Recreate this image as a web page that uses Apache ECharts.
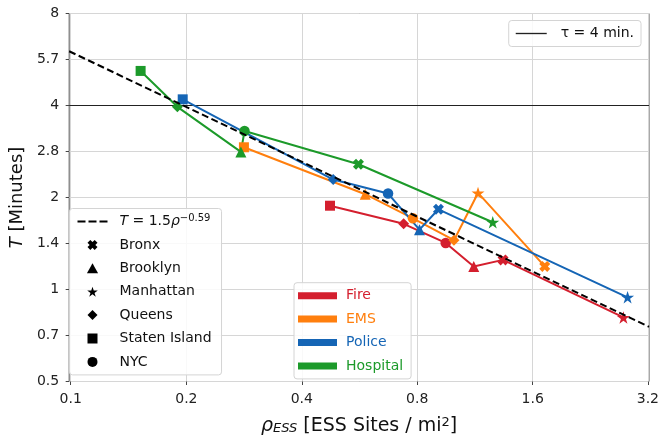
<!DOCTYPE html>
<html><head><meta charset="utf-8">
<script src="https://cdn.jsdelivr.net/npm/echarts@6/dist/echarts.min.js"></script>
<style>html,body{margin:0;padding:0;background:#fff}#c{width:662px;height:441px}</style>
</head><body><div id="c"></div>
<script>
// ---- data ----
const boroughs = ['Bronx', 'Brooklyn', 'Manhattan', 'Queens', 'Staten Island', 'NYC'];
const fireX     = [1.32, 1.105, 2.74, 0.722, 0.462, 0.932];
const fireY     = [1.25, 1.19, 0.81, 1.64, 1.88, 1.42];
const emsX      = [1.70, 0.572, 1.134, 0.98, 0.274, 0.764];
const emsY      = [1.19, 2.05, 2.07, 1.45, 2.92, 1.71];
const policeX   = [0.892, 0.795, 2.81, 0.471, 0.189, 0.657];
const policeY   = [1.83, 1.57, 0.943, 2.29, 4.19, 2.06];
const hospitalX = [0.549, 0.269, 1.24, 0.183, 0.1464, 0.275];
const hospitalY = [2.57, 2.82, 1.66, 3.96, 5.19, 3.30];
const fitX = [0.0949, 3.2];
const fitY = [6.02, 0.755];
const tauX = [0.0949, 3.2];
const tauY = [4, 4];
const xTickLabels = ['0.1', '0.2', '0.4', '0.8', '1.6', '3.2'];
const yTickLabels = ['0.5', '0.7', '1', '1.4', '2', '2.8', '4', '5.7', '8'];
const services = ['Fire', 'EMS', 'Police', 'Hospital'];
const FIT = 'fit';
const TAU = 'τ = 4 min.';

// ---- styling ----
const FONT = 'DejaVu Sans';
const colors = { Fire: '#d41f2e', EMS: '#ff7f0e', Police: '#1565b5', Hospital: '#1c9a2a' };
const XPATH = 'path://M2.8,0 L5,2.2 L7.2,0 L10,2.8 L7.8,5 L10,7.2 L7.2,10 L5,7.8 L2.8,10 L0,7.2 L2.2,5 L0,2.8 Z';
const STARPATH = 'path://M5,0.26 L6.123,3.715 L9.755,3.715 L6.817,5.85 L7.939,9.305 L5,7.17 L2.061,9.305 L3.183,5.85 L0.245,3.715 L3.877,3.715 Z';
const symbolMap = { 'Bronx': XPATH, 'Brooklyn': 'triangle', 'Manhattan': STARPATH, 'Queens': 'diamond', 'Staten Island': 'rect', 'NYC': 'circle' };
const sizeMap = { 'Bronx': 11, 'Brooklyn': 11, 'Manhattan': 13, 'Queens': 11, 'Staten Island': 10, 'NYC': 10.5 };
const legendIconMap = {
  'Bronx': XPATH,
  'Brooklyn': 'path://M5,0 L10,9 L0,9 Z',
  'Manhattan': STARPATH,
  'Queens': 'path://M5,0 L10,5 L5,10 L0,5 Z',
  'Staten Island': 'path://M0,0 H10 V10 H0 Z',
  'NYC': 'circle'
};

function nearestLabel(v, labels) {
  let best = labels[0], bd = Infinity;
  for (const l of labels) {
    const d = Math.abs(Math.log(v) - Math.log(+l));
    if (d < bd) { bd = d; best = l; }
  }
  return best;
}

function serviceSeries(name, xs, ys) {
  const pts = boroughs.map((b, i) => ({ b, x: xs[i], y: ys[i] })).sort((a, b) => a.x - b.x);
  return {
    type: 'line', name, xAxisIndex: 0, yAxisIndex: 0,
    data: pts.map(p => ({ value: [p.x, p.y], symbol: symbolMap[p.b], symbolSize: sizeMap[p.b] })),
    symbolKeepAspect: true,
    lineStyle: { width: 2, color: colors[name] },
    itemStyle: { color: colors[name], borderWidth: 0 },
    emphasis: { disabled: true },
    z: 3
  };
}

const series = [
  { type: 'line', name: TAU, xAxisIndex: 0, yAxisIndex: 0,
    data: tauX.map((x, i) => [x, tauY[i]]), symbol: 'none',
    lineStyle: { color: '#222', width: 1.2 }, itemStyle: { color: '#222' }, z: 2 },
  serviceSeries('Fire', fireX, fireY),
  serviceSeries('EMS', emsX, emsY),
  serviceSeries('Police', policeX, policeY),
  serviceSeries('Hospital', hospitalX, hospitalY),
  { type: 'line', name: FIT, xAxisIndex: 0, yAxisIndex: 0,
    data: fitX.map((x, i) => [x, fitY[i]]), symbol: 'none',
    lineStyle: { color: '#000', width: 2, type: [7, 3.5] }, itemStyle: { color: '#000' }, z: 4 }
];
boroughs.forEach(b => series.push({
  type: 'line', name: b, xAxisIndex: 0, yAxisIndex: 0, data: [],
  symbol: symbolMap[b], itemStyle: { color: '#000' }, lineStyle: { width: 0 }
}));

const legendBox = {
  orient: 'vertical', backgroundColor: 'rgba(255,255,255,0.85)',
  borderColor: '#d4d4d4', borderWidth: 1, borderRadius: 3,
  itemGap: 7.4, selectedMode: false,
  itemStyle: { borderWidth: 0 }
};

const option = {
  animation: false,
  backgroundColor: '#fff',
  grid: [
    { left: 62, right: 13, top: 13.5, bottom: 59.5, show: true, borderColor: '#555', borderWidth: 1, backgroundColor: 'transparent' },
    { left: 70.7, right: 13, top: 13.5, bottom: 59.5, show: false }
  ],
  xAxis: [
    { type: 'log', logBase: 2, gridIndex: 0, min: 0.0949, max: 3.2,
      axisLine: { show: false }, axisTick: { show: false }, axisLabel: { show: false }, splitLine: { show: false },
      name: '{i|ρ}{sub|ESS} [ESS Sites / mi{sup|2}]', nameLocation: 'middle', nameGap: 35,
      nameTextStyle: { fontFamily: FONT, fontSize: 19, color: '#111',
        rich: {
          i: { fontFamily: FONT, fontSize: 19, fontStyle: 'italic', color: '#111' },
          sub: { fontFamily: FONT, fontSize: 13, fontStyle: 'italic', color: '#111', verticalAlign: 'bottom' },
          sup: { fontFamily: FONT, fontSize: 13, color: '#111', verticalAlign: 'top' }
        } } },
    { type: 'log', logBase: 2, gridIndex: 1, min: 0.1, max: 3.2, interval: 1,
      axisLine: { show: false },
      axisTick: { show: true, length: 3.5, lineStyle: { color: '#444' } },
      axisLabel: { fontFamily: FONT, fontSize: 14, color: '#222', margin: 11,
        formatter: v => nearestLabel(v, xTickLabels) },
      splitLine: { show: true, lineStyle: { color: '#d6d6d6', width: 1 } } }
  ],
  yAxis: [
    { type: 'log', logBase: Math.SQRT2, gridIndex: 0, min: 0.5, max: 8, interval: 1,
      axisLine: { show: false },
      axisTick: { show: true, length: 3.5, lineStyle: { color: '#444' } },
      axisLabel: { fontFamily: FONT, fontSize: 14, color: '#222', margin: 10,
        formatter: v => nearestLabel(v, yTickLabels) },
      splitLine: { show: true, lineStyle: { color: '#d6d6d6', width: 1 } },
      name: '{i|T} [Minutes]', nameLocation: 'middle', nameGap: 37, nameRotate: 90,
      nameTextStyle: { fontFamily: FONT, fontSize: 18, color: '#111',
        rich: { i: { fontFamily: FONT, fontSize: 18, fontStyle: 'italic', color: '#111' } } } },
    { type: 'log', logBase: Math.SQRT2, gridIndex: 1, min: 0.5, max: 8, show: false }
  ],
  legend: [
    Object.assign({}, legendBox, {
      right: 21, top: 20.5, itemWidth: 31, itemHeight: 10, padding: [5, 7, 5, 7],
      data: [{ name: TAU, icon: 'path://M0,0h30v1.3h-30z', itemStyle: { color: '#222' } }],
      textStyle: { fontFamily: FONT, fontSize: 14, color: '#111', lineHeight: 16, padding: [0, 0, 0, 9] }
    }),
    Object.assign({}, legendBox, {
      left: 69.5, top: 208.5, itemWidth: 30, itemHeight: 10, padding: [5, 10, 5, 8],
      data: [{ name: FIT, icon: 'path://M0,0h8v2h-8z M11,0h8v2h-8z M22,0h8v2h-8z', itemStyle: { color: '#000' } }]
        .concat(boroughs.map(b => ({ name: b, icon: legendIconMap[b], itemStyle: { color: '#000' } }))),
      formatter: n => n === FIT ? '{i|T} = 1.5{i|ρ}{sup|−0.59}' : n,
      textStyle: { fontFamily: FONT, fontSize: 14, color: '#111', lineHeight: 16, padding: [0, 0, 0, 7],
        rich: {
          i: { fontFamily: FONT, fontSize: 14, fontStyle: 'italic', color: '#111', lineHeight: 16 },
          sup: { fontFamily: FONT, fontSize: 10, color: '#111', verticalAlign: 'top', padding: [0, 0, 4, 0] }
        } }
    }),
    Object.assign({}, legendBox, {
      left: 294, top: 282.7, itemWidth: 39, itemHeight: 7, padding: [5, 8, 5, 4],
      data: services.map(s => ({ name: s, icon: 'rect', itemStyle: { color: colors[s], borderWidth: 0 }, textStyle: { color: colors[s] } })),
      textStyle: { fontFamily: FONT, fontSize: 14, lineHeight: 16, padding: [0, 0, 0, 4] }
    })
  ],
  series
};

const chart = echarts.init(document.getElementById('c'), null, { renderer: 'canvas' });
chart.setOption(option);
</script>
</body></html>
